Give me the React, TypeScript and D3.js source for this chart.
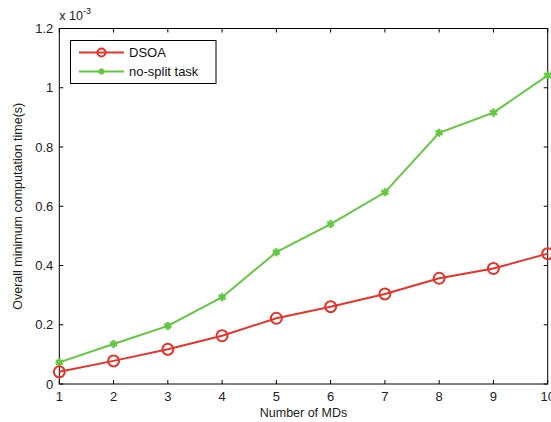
import React, { useRef, useEffect } from "react";
import * as d3 from "d3";

const mds = [1, 2, 3, 4, 5, 6, 7, 8, 9, 10];
const dsoa = [0.041, 0.078, 0.117, 0.163, 0.222, 0.261, 0.304, 0.357, 0.39, 0.44];
const noSplit = [0.073, 0.135, 0.196, 0.293, 0.445, 0.54, 0.647, 0.848, 0.916, 1.042];
const yTicks = [0, 0.2, 0.4, 0.6, 0.8, 1, 1.2];

const RED = "#e8332a";
const GREEN = "#62c83f";

const App = () => {
  const svgRef = useRef<SVGSVGElement>(null);
  const width = 551;
  const height = 422;
  const margin = { top: 28.5, right: 3.3, bottom: 38, left: 59.3 };

  useEffect(() => {
    const svg = d3.select(svgRef.current);
    svg.selectAll("*").remove();

    const x = d3.scaleLinear().domain([1, 10]).range([margin.left, width - margin.right]);
    const y = d3.scaleLinear().domain([0, 1.2]).range([height - margin.bottom, margin.top]);
    const font = "Arial, 'Liberation Sans', sans-serif";

    const g = svg.append("g").style("font-family", font);

    // axes box
    g.append("rect")
      .attr("x", x(1))
      .attr("y", y(1.2))
      .attr("width", x(10) - x(1))
      .attr("height", y(0) - y(1.2))
      .attr("fill", "none")
      .attr("stroke", "#000")
      .attr("stroke-width", 1);

    // ticks (inward, mirrored)
    mds.forEach((d) => {
      g.append("line").attr("x1", x(d)).attr("x2", x(d)).attr("y1", y(0)).attr("y2", y(0) - 4).attr("stroke", "#000");
      g.append("line").attr("x1", x(d)).attr("x2", x(d)).attr("y1", y(1.2)).attr("y2", y(1.2) + 4).attr("stroke", "#000");
      g.append("text")
        .attr("x", x(d))
        .attr("y", y(0) + 17)
        .attr("text-anchor", "middle")
        .attr("font-size", 13)
        .attr("fill", "#222")
        .text(d);
    });
    yTicks.forEach((d) => {
      g.append("line").attr("x1", x(1)).attr("x2", x(1) + 4).attr("y1", y(d)).attr("y2", y(d)).attr("stroke", "#000");
      g.append("line").attr("x1", x(10)).attr("x2", x(10) - 4).attr("y1", y(d)).attr("y2", y(d)).attr("stroke", "#000");
      g.append("text")
        .attr("x", x(1) - 6)
        .attr("y", y(d))
        .attr("dy", "0.35em")
        .attr("text-anchor", "end")
        .attr("font-size", 13)
        .attr("fill", "#222")
        .text(d === 0 || d === 1 ? String(d) : d.toFixed(1));
    });

    // exponent label
    const ex = g.append("text").attr("x", x(1)).attr("y", 20).attr("font-size", 12.5).attr("fill", "#222");
    ex.append("tspan").text("x 10");
    ex.append("tspan").attr("dy", -6).attr("font-size", 9).text("-3");

    // axis titles
    g.append("text")
      .attr("x", (x(1) + x(10)) / 2)
      .attr("y", height - 5)
      .attr("text-anchor", "middle")
      .attr("font-size", 12.5)
      .attr("fill", "#222")
      .text("Number of MDs");
    g.append("text")
      .attr("transform", `translate(22,${(y(0) + y(1.2)) / 2}) rotate(-90)`)
      .attr("text-anchor", "middle")
      .attr("font-size", 12.5)
      .attr("fill", "#222")
      .text("Overall minimum computation time(s)");

    const line = d3
      .line<number>()
      .x((_, i) => x(mds[i]))
      .y((d) => y(d));

    // no-split series
    g.append("path").attr("d", line(noSplit)).attr("fill", "none").attr("stroke", GREEN).attr("stroke-width", 2);
    const star = d3.symbol().type(d3.symbolAsterisk).size(45);
    g.selectAll(".ns")
      .data(noSplit)
      .enter()
      .append("path")
      .attr("transform", (d, i) => `translate(${x(mds[i])},${y(d)})`)
      .attr("d", star())
      .attr("fill", "none")
      .attr("stroke", GREEN)
      .attr("stroke-width", 2.5);

    // DSOA series
    g.append("path").attr("d", line(dsoa)).attr("fill", "none").attr("stroke", RED).attr("stroke-width", 2);
    g.selectAll(".ds")
      .data(dsoa)
      .enter()
      .append("circle")
      .attr("cx", (d, i) => x(mds[i]))
      .attr("cy", (d) => y(d))
      .attr("r", 5.5)
      .attr("fill", "none")
      .attr("stroke", RED)
      .attr("stroke-width", 2);

    // legend
    const lg = g.append("g").attr("transform", "translate(70.5,40.5)");
    lg.append("rect").attr("width", 145.5).attr("height", 43).attr("fill", "#fff").attr("stroke", "#000");
    lg.append("line").attr("x1", 8.5).attr("x2", 53.5).attr("y1", 12).attr("y2", 12).attr("stroke", RED).attr("stroke-width", 2);
    lg.append("circle").attr("cx", 31).attr("cy", 12).attr("r", 4).attr("fill", "none").attr("stroke", RED).attr("stroke-width", 2);
    lg.append("text").attr("x", 58.5).attr("y", 12).attr("dy", "0.35em").attr("font-size", 13).attr("fill", "#111").text("DSOA");
    lg.append("line").attr("x1", 8.5).attr("x2", 53.5).attr("y1", 31).attr("y2", 31).attr("stroke", GREEN).attr("stroke-width", 2);
    lg.append("path")
      .attr("transform", "translate(31,31)")
      .attr("d", d3.symbol().type(d3.symbolAsterisk).size(25)())
      .attr("fill", "none")
      .attr("stroke", GREEN)
      .attr("stroke-width", 2.5);
    lg.append("text").attr("x", 58.5).attr("y", 31).attr("dy", "0.35em").attr("font-size", 13).attr("fill", "#111").text("no-split task");
  }, []);

  return (
    <svg
      ref={svgRef}
      width={width}
      height={height}
      style={{ position: "absolute", left: 0, top: 0, background: "#fff" }}
    ></svg>
  );
};

export default App;
